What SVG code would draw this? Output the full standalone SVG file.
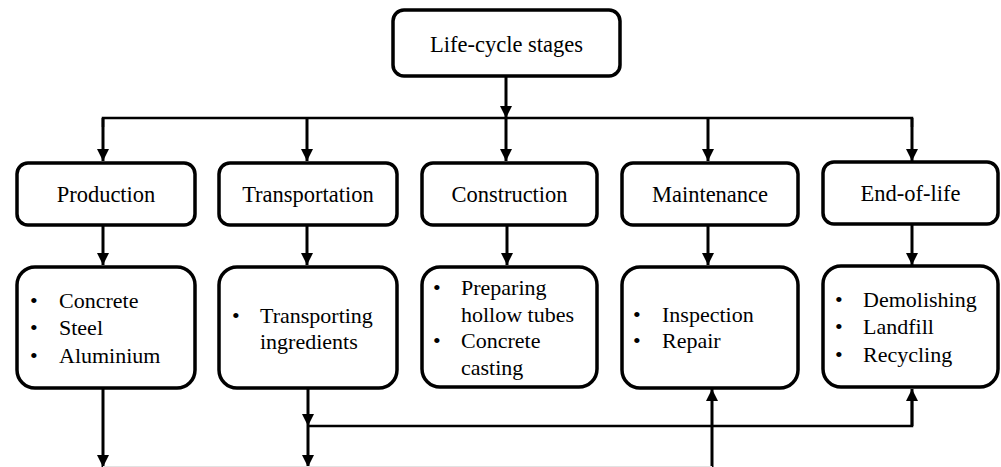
<svg xmlns="http://www.w3.org/2000/svg" width="1001" height="467" viewBox="0 0 1001 467">
<defs>
<marker id="ah" markerUnits="userSpaceOnUse" markerWidth="12" markerHeight="12" viewBox="0 0 12 12" refX="12" refY="6" orient="auto">
<path d="M0,0 L12,6 L0,12 Z" fill="#000"/>
</marker>
</defs>
<style>
.box{fill:#fff;stroke:#000;stroke-width:3.5}
text{font-family:'Liberation Serif','Times New Roman',serif;font-size:22px;fill:#000}
.c{text-anchor:middle;font-size:22.5px}
.v{stroke:#000;stroke-width:3;fill:none}
.h{stroke:#000;stroke-width:2.5;fill:none}
</style>
<rect width="1001" height="467" fill="#fff"/>
<g id="connectors">
<line class="v" x1="506" y1="76" x2="506" y2="118" marker-end="url(#ah)"/>
<polyline class="h" points="103,127 103,118 912,118 912,127"/>
<line class="v" x1="103" y1="118" x2="103" y2="161" marker-end="url(#ah)"/>
<line class="v" x1="307" y1="118" x2="307" y2="161" marker-end="url(#ah)"/>
<line class="v" x1="506" y1="118" x2="506" y2="161" marker-end="url(#ah)"/>
<line class="v" x1="708" y1="118" x2="708" y2="161" marker-end="url(#ah)"/>
<line class="v" x1="912" y1="118" x2="912" y2="161" marker-end="url(#ah)"/>
<line class="v" x1="103" y1="225" x2="103" y2="265" marker-end="url(#ah)"/>
<line class="v" x1="307" y1="225" x2="307" y2="265" marker-end="url(#ah)"/>
<line class="v" x1="507" y1="225" x2="507" y2="265" marker-end="url(#ah)"/>
<line class="v" x1="708" y1="225" x2="708" y2="265" marker-end="url(#ah)"/>
<line class="v" x1="912" y1="224" x2="912" y2="265" marker-end="url(#ah)"/>
<line class="v" x1="103" y1="388" x2="103" y2="467" marker-end="url(#ah)"/>
<line class="v" x1="308" y1="388" x2="308" y2="426" marker-end="url(#ah)"/>
<line class="v" x1="308" y1="426" x2="308" y2="467" marker-end="url(#ah)"/>
<polyline class="h" points="308,426 912,426 912,400"/>
<line class="v" x1="912" y1="426" x2="912" y2="389" marker-end="url(#ah)"/>
<line class="v" x1="712" y1="467" x2="712" y2="389" marker-end="url(#ah)"/>
<line x1="103" y1="466.5" x2="712" y2="466.5" stroke="#e2e2e2" stroke-width="1"/>
</g>
<g id="n-lifecycle">
<rect class="box" x="393" y="10" width="227" height="66" rx="11"/>
<text class="c" x="506.5" y="52">Life-cycle stages</text>
</g>
<g id="n-production">
<rect class="box" x="17" y="163" width="178" height="62" rx="11"/>
<text class="c" x="106" y="202">Production</text>
</g>
<g id="n-transportation">
<rect class="box" x="219" y="163" width="178" height="62" rx="11"/>
<text class="c" x="308" y="202">Transportation</text>
</g>
<g id="n-construction">
<rect class="box" x="422" y="163" width="175" height="62" rx="11"/>
<text class="c" x="509.5" y="202">Construction</text>
</g>
<g id="n-maintenance">
<rect class="box" x="622" y="163" width="176" height="62" rx="11"/>
<text class="c" x="710" y="202">Maintenance</text>
</g>
<g id="n-endoflife">
<rect class="box" x="823" y="162" width="175" height="62" rx="11"/>
<text class="c" x="910.5" y="201">End-of-life</text>
</g>
<g id="n-production-items">
<rect class="box" x="17" y="267" width="178" height="121" rx="18"/>
<text x="30" y="308">•</text><text x="59" y="308">Concrete</text>
<text x="30" y="335">•</text><text x="59" y="335">Steel</text>
<text x="30" y="363">•</text><text x="59" y="363">Aluminium</text>
</g>
<g id="n-transportation-items">
<rect class="box" x="219" y="267" width="178" height="121" rx="18"/>
<text x="232" y="323">•</text><text x="260" y="323">Transporting</text>
<text x="260" y="349">ingredients</text>
</g>
<g id="n-construction-items">
<rect class="box" x="422" y="267" width="175" height="120" rx="18"/>
<text x="433" y="295">•</text><text x="461" y="295">Preparing</text>
<text x="461" y="322">hollow tubes</text>
<text x="433" y="348">•</text><text x="461" y="348">Concrete</text>
<text x="461" y="375">casting</text>
</g>
<g id="n-maintenance-items">
<rect class="box" x="622" y="267" width="176" height="121" rx="18"/>
<text x="633" y="322">•</text><text x="662" y="322">Inspection</text>
<text x="633" y="348">•</text><text x="662" y="348">Repair</text>
</g>
<g id="n-endoflife-items">
<rect class="box" x="823" y="266" width="175" height="121" rx="18"/>
<text x="835" y="307">•</text><text x="863" y="307">Demolishing</text>
<text x="835" y="334">•</text><text x="863" y="334">Landfill</text>
<text x="835" y="362">•</text><text x="863" y="362">Recycling</text>
</g>
</svg>
